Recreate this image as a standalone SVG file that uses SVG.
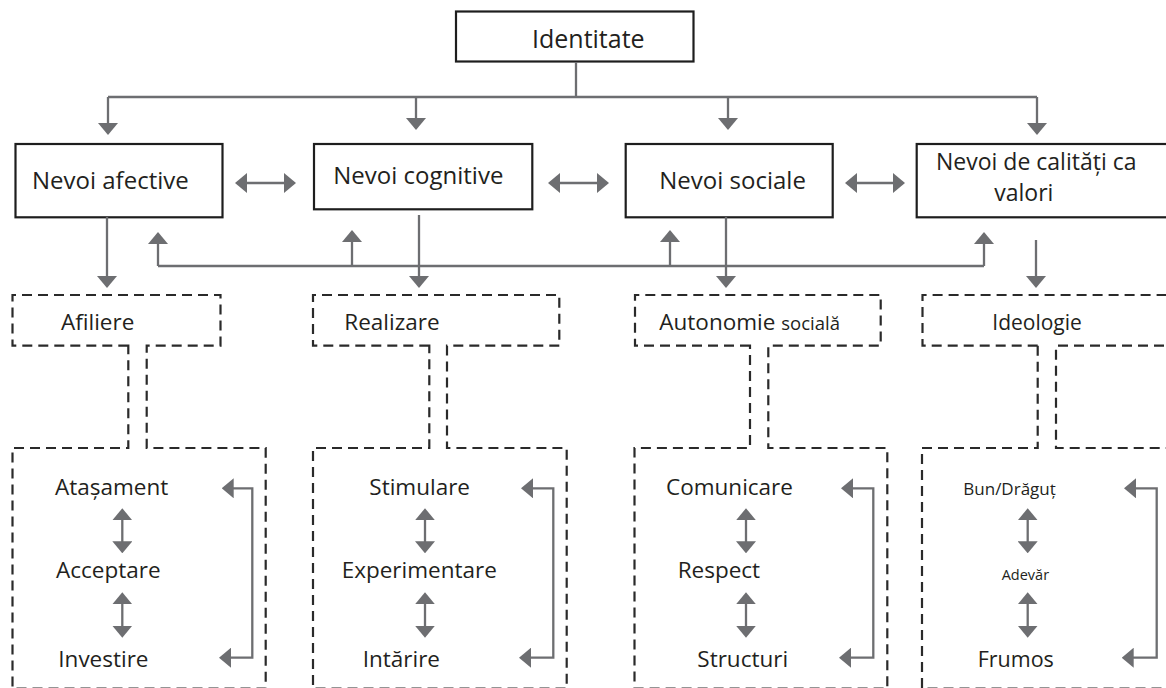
<svg xmlns="http://www.w3.org/2000/svg" width="1166" height="688" viewBox="0 0 1166 688">
<style>
  .box{fill:#fff;stroke:#1e1e1e;stroke-width:2.2}
  .dash{fill:none;stroke:#2a2a2a;stroke-width:2.2;stroke-dasharray:10 6}
  .t{font-family:"Open Sans","Liberation Sans",sans-serif;fill:#231f20}
  .top{font-size:24px}
  .sub{font-size:22.5px}
  .con{fill:none;stroke:#6d6e71;stroke-width:2.3}
  .a1{marker-end:url(#ah)}
  .a2{marker-start:url(#ah);marker-end:url(#ah)}
</style>
<defs>
  <marker id="ah" viewBox="0 0 12 20" refX="6" refY="10" markerWidth="12" markerHeight="20" markerUnits="userSpaceOnUse" orient="auto-start-reverse">
    <path d="M0,0 L12,10 L0,20 Z" fill="#6d6e71"/>
  </marker>
</defs>
<rect width="1166" height="688" fill="#fff"/>

<g id="identitate">
  <rect class="box" x="456" y="11.5" width="237.5" height="50"/>
  <text class="t" x="532" y="48" font-size="25">Identitate</text>
</g>

<g id="nevoi-afective">
  <rect class="box" x="15.5" y="144" width="207" height="73.3"/>
  <text class="t top" x="32" y="189.3">Nevoi afective</text>
</g>
<g id="nevoi-cognitive">
  <rect class="box" x="314" y="144" width="218.3" height="65.3"/>
  <text class="t top" x="333.3" y="184.3">Nevoi cognitive</text>
</g>
<g id="nevoi-sociale">
  <rect class="box" x="625.7" y="144" width="207" height="73.3"/>
  <text class="t top" x="659.3" y="188.7">Nevoi sociale</text>
</g>
<g id="nevoi-calitati">
  <rect class="box" x="916.7" y="144" width="260" height="73.3"/>
  <text class="t" x="936" y="169.5" font-size="23">Nevoi de calități ca</text>
  <text class="t" x="994.3" y="201" font-size="23">valori</text>
</g>

<g id="afiliere">
  <path class="dash" d="M128.3,345.7 H12.5 V295 H220.5 V345.7 H146.7 V448 H265.7 V688.5 H12.5 V448 H128.3 Z"/>
  <text class="t sub" x="61" y="330">Afiliere</text>
  <text class="t sub" x="55" y="495">Atașament</text>
  <text class="t sub" x="56" y="578">Acceptare</text>
  <text class="t sub" x="58.3" y="667">Investire</text>
</g>
<g id="realizare">
  <path class="dash" d="M429.3,345.7 H313 V295 H559.3 V345.7 H447 V448 H566.7 V688.5 H313 V448 H429.3 Z"/>
  <text class="t sub" x="344.3" y="330">Realizare</text>
  <text class="t sub" x="369.3" y="495">Stimulare</text>
  <text class="t sub" x="341.7" y="578">Experimentare</text>
  <text class="t sub" x="362.7" y="667">Intărire</text>
</g>
<g id="autonomie">
  <path class="dash" d="M750,345.7 H635 V295 H880.7 V345.7 H768.3 V448 H887.3 V688.5 H634.5 V448 H750 Z"/>
  <text class="t sub" x="659.3" y="330">Autonomie <tspan font-size="18.5">socială</tspan></text>
  <text class="t sub" x="666" y="495">Comunicare</text>
  <text class="t sub" x="677.7" y="578">Respect</text>
  <text class="t sub" x="697.3" y="667">Structuri</text>
</g>
<g id="ideologie">
  <path class="dash" d="M1037.7,345.7 H922.5 V295 H1180 M1180,345.7 H1056 V448 H1180 M1037.7,345.7 V448 H922 V688.5 H1180"/>
  <text class="t" x="992.3" y="330" font-size="21">Ideologie</text>
  <text class="t" x="963.3" y="495" font-size="17">Bun/Drăguț</text>
  <text class="t" x="1001.7" y="580" font-size="14.5">Adevăr</text>
  <text class="t" x="977.7" y="667" font-size="21.5">Frumos</text>
</g>

<g id="connectors">
  <path class="con" d="M576,62 V97 M108,97 H1037"/>
  <path class="con a1" d="M108,97 V129"/>
  <path class="con a1" d="M416,97 V124"/>
  <path class="con a1" d="M728,97 V124"/>
  <path class="con a1" d="M1037,97 V129"/>

  <path class="con a2" d="M241,183 H290"/>
  <path class="con a2" d="M554,183 H603"/>
  <path class="con a2" d="M851,183 H899"/>

  <path class="con a1" d="M107,217 V282"/>
  <path class="con a1" d="M419,215 V282"/>
  <path class="con a1" d="M726,217 V282"/>
  <path class="con a1" d="M1036,240 V282"/>

  <path class="con" d="M158,266 H984"/>
  <path class="con a1" d="M158,266 V238"/>
  <path class="con a1" d="M352,266 V236"/>
  <path class="con a1" d="M670,266 V236"/>
  <path class="con a1" d="M984,266 V238"/>

  <path class="con a2" d="M122.3,514.3 V547.3"/>
  <path class="con a2" d="M122.3,598.3 V631.7"/>
  <path class="con a2" d="M425,514.3 V547.3"/>
  <path class="con a2" d="M425,598.3 V631.7"/>
  <path class="con a2" d="M746,514.3 V547.3"/>
  <path class="con a2" d="M746,598.3 V631.7"/>
  <path class="con a2" d="M1027.7,514.3 V547.3"/>
  <path class="con a2" d="M1027.7,598.3 V631.7"/>

  <path class="con a2" d="M227.7,488.3 H252.3 V657.7 H225"/>
  <path class="con a2" d="M527,488.3 H553.3 V657.7 H525"/>
  <path class="con a2" d="M847,488.3 H873.3 V657.7 H845"/>
  <path class="con a2" d="M1130,488.3 H1156.7 V657.7 H1127.7"/>
</g>
</svg>
